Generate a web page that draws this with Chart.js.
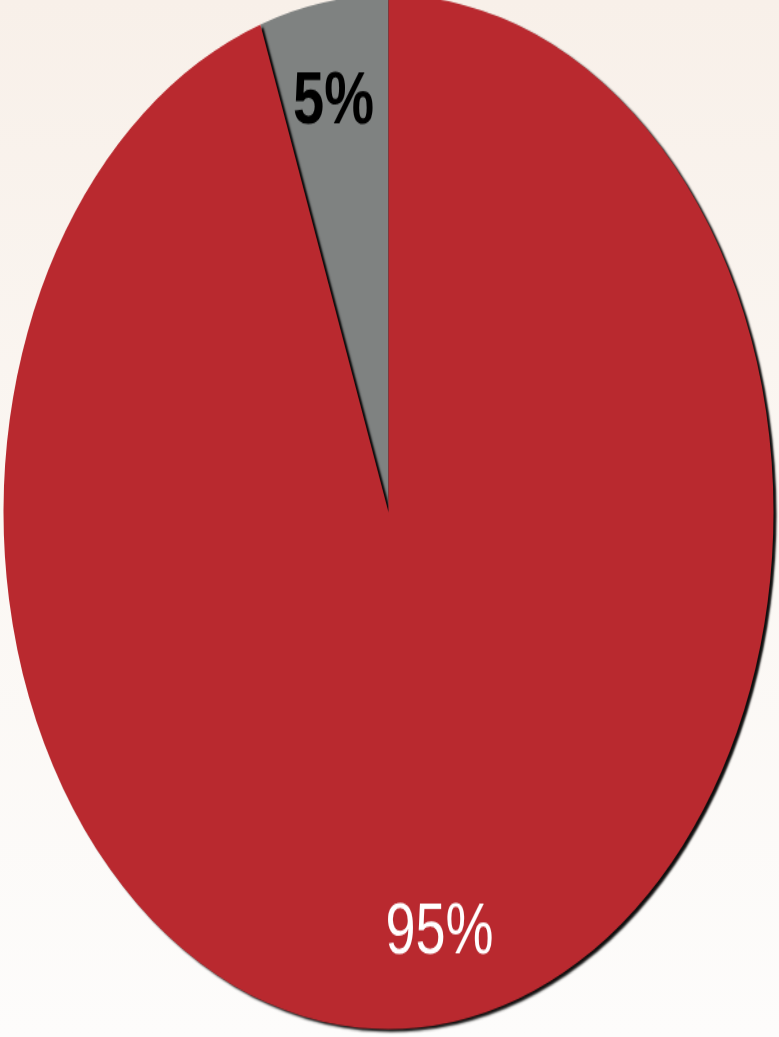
<!DOCTYPE html>
<html>
<head>
<meta charset="utf-8">
<script src="https://cdn.jsdelivr.net/npm/chart.js@4/dist/chart.umd.min.js"></script>
<style>
  html, body { margin: 0; padding: 0; }
  body {
    position: relative;
    width: 779px; height: 1037px; overflow: hidden;
    background: linear-gradient(to bottom, #f8f0e9 0%, #fbf7f3 50%, #fdfcfb 100%);
  }
  #wrap {
    position: absolute; left: -1px; top: -11px;
    width: 779px; height: 779px;
    transform-origin: 0 0;
    transform: scaleY(1.343);
  }
</style>
</head>
<body>
<div id="wrap"><canvas id="c" width="779" height="779"></canvas></div>
<script>
// Data
const categories = ["Other", "Main"];
const values = [5.4, 94.6];
const labels = ["5%", "95%"];
const colors = ["#7f8281", "#b9292f"];
const labelColors = ["#000000", "#ffffff"];
const labelWeights = ["bold", "normal"];
const labelSizes = [56, 54];

const shadowPlugin = {
  id: 'shadow',
  beforeDatasetsDraw(chart) {
    const ctx = chart.ctx;
    ctx.save();
    ctx.shadowColor = 'rgba(0,0,0,0.95)';
    ctx.shadowOffsetX = 3;
    ctx.shadowOffsetY = 2;
    ctx.shadowBlur = 2;
  },
  afterDatasetsDraw(chart) {
    chart.ctx.restore();
  }
};

const labelPlugin = {
  id: 'sliceLabels',
  afterDraw(chart) {
    const ctx = chart.ctx;
    const meta = chart.getDatasetMeta(0);
    meta.data.forEach((arc, i) => {
      const mid = (arc.startAngle + arc.endAngle) / 2;
      const r = arc.outerRadius * 0.815;
      const x = arc.x + Math.cos(mid) * r - 2;
      const y = arc.y + Math.sin(mid) * r + 4;
      ctx.save();
      ctx.font = labelWeights[i] + ' ' + labelSizes[i] + 'px "Liberation Sans", Arial, sans-serif';
      ctx.fillStyle = labelColors[i];
      ctx.textAlign = 'center';
      ctx.textBaseline = 'middle';
      ctx.fillText(labels[i], x, y);
      ctx.restore();
    });
  }
};

new Chart(document.getElementById('c'), {
  type: 'pie',
  data: {
    labels: categories,
    datasets: [{
      data: values,
      backgroundColor: colors,
      borderWidth: 0
    }]
  },
  options: {
    responsive: false,
    animation: false,
    rotation: -values[0] / (values[0] + values[1]) * 360,
    layout: { padding: 4.5 },
    plugins: {
      legend: { display: false },
      tooltip: { enabled: false }
    }
  },
  plugins: [shadowPlugin, labelPlugin]
});
</script>
</body>
</html>
